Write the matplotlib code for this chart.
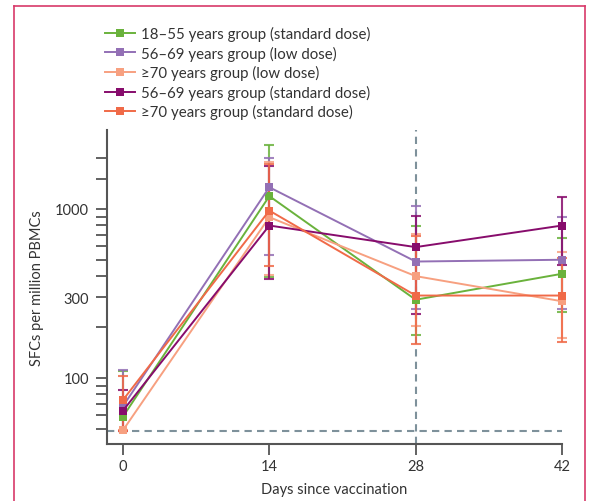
import matplotlib
matplotlib.use("Agg")
import matplotlib.pyplot as plt
from matplotlib.lines import Line2D
from matplotlib.ticker import FixedLocator, NullFormatter

plt.rcParams['font.family'] = ['Lato', 'DejaVu Sans']

days = [0, 14, 28, 42]
groups = ["18–55 years group (standard dose)",
          "56–69 years group (low dose)",
          "≥70 years group (low dose)",
          "56–69 years group (standard dose)",
          "≥70 years group (standard dose)"]
colors = ["#6AB23C", "#9370B5", "#F7A080", "#870C6C", "#F06A48"]

mean_1855_std = [59, 1190, 290, 413]
upper_1855_std = [110, 2400, 797, 674]
lower_1855_std = [48.5, 397, 180, 247]

mean_5669_low = [68, 1343, 488, 500]
upper_5669_low = [111, 2000, 1037, 901]
lower_5669_low = [48.5, 537, 257, 255]

mean_70_low = [49, 893, 400, 284]
upper_70_low = [49, 1890, 712, 555]
lower_70_low = [49, 404, 204, 172]

mean_5669_std = [64, 797, 594, 797]
upper_5669_std = [85, 1795, 913, 1182]
lower_5669_std = [48.5, 386, 240, 463]

mean_70_std = [74, 977, 307, 307]
upper_70_std = [102, 1850, 690, 513]
lower_70_std = [48.5, 459, 159, 162]

means = [mean_1855_std, mean_5669_low, mean_70_low, mean_5669_std, mean_70_std]
uppers = [upper_1855_std, upper_5669_low, upper_70_low, upper_5669_std, upper_70_std]
lowers = [lower_1855_std, lower_5669_low, lower_70_low, lower_5669_std, lower_70_std]

lloq = 48.5

fig = plt.figure(figsize=(5.92, 5.02), dpi=100)
ax = fig.add_axes([107/592, 1-445/502, (562-107)/592, (445-131)/502])
ax.set_yscale('log')
ax.set_xlim(-1.53, 42)
ax.set_ylim(40.6, 2930)

gray = "#7E919B"
ax.axhline(lloq, color=gray, lw=1.5, ls=(0, (3.5, 2.5)), zorder=1)
ax.axvline(28, color=gray, lw=1.5, ls=(0, (3.5, 2.5)), zorder=1)

for m, u, l, c in zip(means, uppers, lowers, colors):
    yerr = [[mi - li for mi, li in zip(m, l)], [ui - mi for mi, ui in zip(m, u)]]
    eb = ax.errorbar(days, m, yerr=yerr, fmt='none', ecolor=c, elinewidth=1.5,
                     capsize=3.6, capthick=1.5, alpha=0.85, zorder=2)
    for art in list(eb.lines[1]) + list(eb.lines[2]):
        art.set_clip_on(False)

handles = []
for m, c, g in zip(means, colors, groups):
    ln, = ax.plot(days, m, color=c, lw=1.4, marker='s', markersize=5.5,
                  markeredgewidth=0, label=g, zorder=3, clip_on=False)
    handles.append(ln)

for side in ['top', 'right']:
    ax.spines[side].set_visible(False)
for side in ['left', 'bottom']:
    ax.spines[side].set_color('#555555')
    ax.spines[side].set_linewidth(1.5)

ax.yaxis.set_major_locator(FixedLocator([100, 300, 1000]))
ax.set_yticklabels(['100', '300', '1000'])
ax.yaxis.set_minor_locator(FixedLocator([50, 60, 70, 80, 90, 200, 400, 500, 600, 700, 800, 900, 1500, 2000]))
ax.yaxis.set_minor_formatter(NullFormatter())
ax.set_xticks(days)
ax.tick_params(axis='both', which='both', direction='out', length=8, width=1.3,
               color='#555555', labelcolor='#333333', labelsize=10.5, pad=5)
ax.tick_params(axis='x', which='both', pad=3)

ax.set_xlabel("Days since vaccination", fontsize=10.5, color='#333333', labelpad=6)
ax.set_ylabel("SFCs per million PBMCs", fontsize=10.5, color='#333333', labelpad=8)

leg = fig.legend(handles=handles, loc='upper left', bbox_to_anchor=(105/592, 1-27/502),
                 frameon=False, fontsize=10.8, handlelength=2.0, handletextpad=0.4,
                 labelspacing=0.3, borderpad=0, borderaxespad=0)
for t in leg.get_texts():
    t.set_color('#333333')

frame_c = "#D83A6A"
fig.add_artist(Line2D([14/592, 14/592], [0, 1-7/502], color=frame_c, lw=1.2))
fig.add_artist(Line2D([585/592, 585/592], [0, 1-7/502], color=frame_c, lw=1.2))
fig.add_artist(Line2D([14/592, 585/592], [1-7/502, 1-7/502], color=frame_c, lw=1.2))

fig.savefig("out.png", dpi=100)
